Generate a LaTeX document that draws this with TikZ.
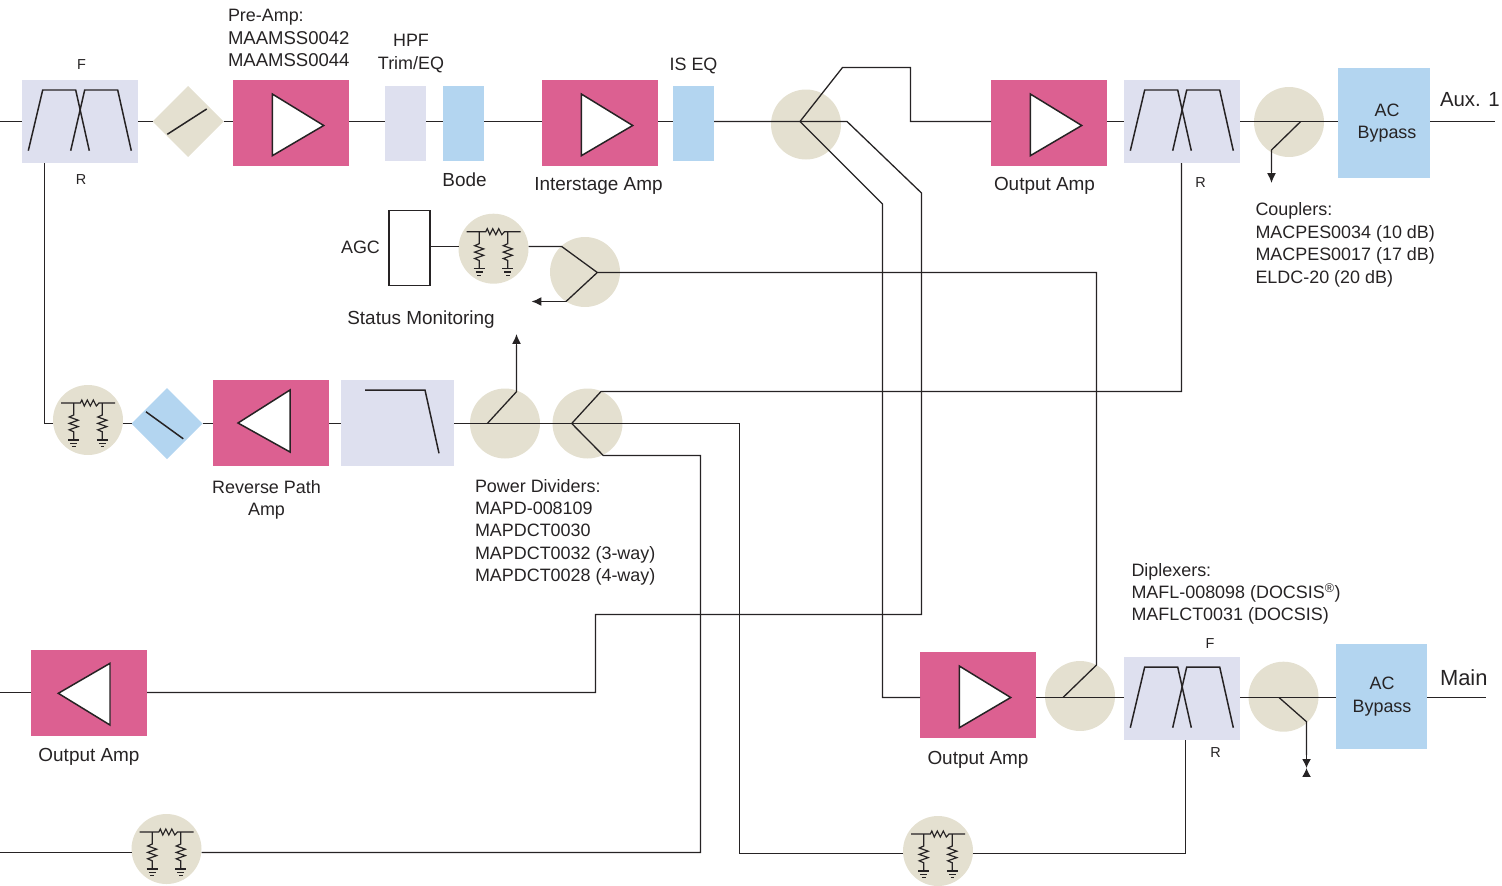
\documentclass[tikz,border=0pt]{standalone}
\usepackage{fontspec}
\setmainfont{Liberation Sans}
\usetikzlibrary{arrows.meta, shapes.geometric, calc}
\definecolor{colorpink}{RGB}{220,96,145}
\definecolor{colorlav}{RGB}{222,224,239}
\definecolor{colortan}{RGB}{228,224,208}
\definecolor{colorblue}{RGB}{179,213,240}
\definecolor{colorink}{RGB}{38,35,36}
\tikzset{
	wire/.style={line width=1.3pt,draw=colorink,line join=miter},
	glyph/.style={line width=1.5pt,draw=colorink},
	tinyglyph/.style={line width=1.2pt,draw=colorink},
	box/.style={rectangle,inner sep=0,outer sep=0},
	ampbox/.style={box,fill=colorpink,minimum width=116bp,minimum height=86bp},
	filterbox/.style={box,fill=colorlav,minimum width=116bp,minimum height=83bp},
	eqbox/.style={box,minimum width=41bp,minimum height=75bp},
	acbox/.style={box,fill=colorblue,align=center},
	disc/.style={circle,fill=colortan,inner sep=0,outer sep=0,minimum size=70bp},
	gem/.style={diamond,inner sep=0,outer sep=0,minimum width=71bp,minimum height=71bp},
	lbl/.style={inner sep=0,outer sep=0,text=colorink,font=\fontsize{19}{22.5}\selectfont,align=left},
	codelbl/.style={lbl,font=\fontsize{18}{22.5}\selectfont},
	smalllbl/.style={lbl,font=\fontsize{14.5}{17}\selectfont},
	biglbl/.style={lbl,font=\fontsize{20.5}{24}\selectfont},
	tip/.style={-{Latex[length=10pt,width=9pt]}}
}
% glyphs, placed on a node centre
\newcommand{\filterglyph}[1]{
	\draw[glyph,shift={(#1.center)}] (-51.7,29.2) -- (-37.3,-31.5) -- (-4.3,-31.5) -- (9.3,29.2);
	\draw[glyph,shift={(#1.center)}] (-9.3,29.2) -- (4.7,-31.5) -- (37.7,-31.5) -- (51.3,29.2);
}
\newcommand{\ampright}[1]{
	\draw[glyph,fill=white,shift={(#1.center)}] (-18.7,-29) -- (32.7,2.5) -- (-18.7,32.7) -- cycle;
}
\newcommand{\attnleg}[1]{
	\draw[tinyglyph] (#1,-17) -- (#1,-5) -- ++(-4.5,2) -- ++(9,3.2) -- ++(-9,3.2) -- ++(9,3.2) -- ++(-9,3.2) -- ++(4.5,2) -- (#1,20);
	\draw[tinyglyph] (#1-5.5,20) -- (#1+5.5,20);
	\draw[tinyglyph] (#1-3.5,23.2) -- (#1+3.5,23.2);
	\draw[tinyglyph] (#1-1.8,26.4) -- (#1+1.8,26.4);
}
\newcommand{\attnglyph}[1]{
	\begin{scope}[shift={(#1.center)}]
		\draw[tinyglyph] (-27,-17) -- (-7.7,-17) -- ++(1.5,-3) -- ++(2.5,6) -- ++(3,-6) -- ++(3,6) -- ++(3,-6) -- ++(3,6) -- ++(2.7,-3) -- (27,-17);
		\attnleg{-14.3}
		\attnleg{14.3}
	\end{scope}
}

\begin{document}
\begin{tikzpicture}[x=1bp,y=-1bp]
	\useasboundingbox (0,0) rectangle (1502,885);
	% line heights
	\coordinate (auxy) at (0,121.5);
	\coordinate (revy) at (0,423.5);
	\coordinate (mainy) at (0,697.5);
	\coordinate (lefty) at (0,692.5);
	\coordinate (lowl) at (0,852.5);
	\coordinate (lowr) at (0,853.5);
	\coordinate (agcy) at (0,246.5);

	% top row
	\node[filterbox] (filtera) at (80,121.5) {};
	\node[gem,fill=colortan] (gema) at (188,121.5) {};
	\node[ampbox] (preamp) at (291,123) {};
	\node[eqbox,fill=colorlav] (hpf) at (405.5,123.5) {};
	\node[eqbox,fill=colorblue] (bode) at (463.5,123.5) {};
	\node[ampbox] (isamp) at (600,123) {};
	\node[eqbox,fill=colorblue] (iseq) at (693.5,123.5) {};
	\node[disc] (splita) at (806,124.5) {};
	\node[ampbox] (auxamp) at (1049,123) {};
	\node[filterbox] (filterb) at (1182,121.5) {};
	\node[disc] (tapa) at (1289,122) {};
	\node[acbox,minimum width=92bp,minimum height=110bp] (acaux) at (1384,123) {};

	% status monitoring
	\node[box,draw=colorink,line width=1.3pt,minimum width=41bp,minimum height=75bp] (agc) at (409.5,248) {};
	\node[disc] (attnagc) at (493.5,248.7) {};
	\node[disc] (splitb) at (585,272) {};

	% reverse row
	\node[disc] (attnrev) at (88,420) {};
	\node[gem,fill=colorblue] (gemb) at (167,423.5) {};
	\node[ampbox] (revamp) at (271,423) {};
	\node[box,fill=colorlav,minimum width=113bp,minimum height=86bp] (lpf) at (397.5,423) {};
	\node[disc] (splitc) at (505,423.5) {};
	\node[disc] (splitd) at (587.5,423.5) {};

	% bottom rows
	\node[ampbox] (leftamp) at (89,692.5) {};
	\node[ampbox] (mainamp) at (978,695) {};
	\node[disc] (tapb) at (1080,696) {};
	\node[filterbox] (filterc) at (1182,698.5) {};
	\node[disc] (tapc) at (1283.5,696.7) {};
	\node[acbox,minimum width=91bp,minimum height=105bp] (acmain) at (1381.5,696.5) {};
	\node[disc] (attnleft) at (166.5,849) {};
	\node[disc] (attnright) at (938,851) {};

	% junctions
	\coordinate (jaux) at (800,121.5);
	\coordinate (jcoup) at (1300.7,121.5);
	\coordinate (jstat) at (597.3,272.5);
	\coordinate (jstatb) at (566,301.5);
	\coordinate (jrevc) at (487.3,423.5);
	\coordinate (jrevd) at (571.7,423.5);
	\coordinate (jmain) at (1063,697.5);
	\coordinate (jtap) at (1279,697.5);

	% main lines
	\draw[wire] (0,121.5) -- (filtera.west |- auxy);
	\draw[wire] (filtera.east |- auxy) -- (gema.west);
	\draw[wire] (gema.east) -- (preamp.west |- auxy);
	\draw[wire] (preamp.east |- auxy) -- (hpf.west |- auxy);
	\draw[wire] (hpf.east |- auxy) -- (bode.west |- auxy);
	\draw[wire] (bode.east |- auxy) -- (isamp.west |- auxy);
	\draw[wire] (isamp.east |- auxy) -- (iseq.west |- auxy);
	\draw[wire] (iseq.east |- auxy) -- (847,121.5) -- (921.5,193) -- (921.5,614.5) -- (595.5,614.5) -- (595.5,692.5) -- (leftamp.east |- lefty);
	\draw[wire] (jaux) -- (842.5,67.5) -- (910.5,67.5) -- (910.5,121.5) -- (auxamp.west |- auxy);
	\draw[wire] (jaux) -- (882.5,204) -- (882.5,697.5) -- (mainamp.west |- mainy);
	\draw[wire] (auxamp.east |- auxy) -- (filterb.west |- auxy);
	\draw[wire] (filterb.east |- auxy) -- (acaux.west |- auxy);
	\draw[wire] (acaux.east |- auxy) -- (1495,121.5);
	\draw[wire] (jcoup) -- (1271.5,150) -- (1271.5,172);
	\draw[wire,tip] (1271.5,170) -- (1271.5,183);

	% status
	\draw[wire] (agc.east |- agcy) -- (attnagc.west |- agcy);
	\draw[wire] (attnagc.east |- agcy) -- (561.7,246.5) -- (jstat) -- (jstatb);
	\draw[wire,tip] (jstatb) -- (531.5,301.5);
	\draw[wire] (jstat) -- (1096.5,272.5) -- (1096.5,665) -- (jmain);

	% reverse path
	\draw[wire] (44.5,163) -- (44.5,423.5) -- (attnrev.west |- revy);
	\draw[wire] (attnrev.east |- revy) -- (gemb.west);
	\draw[wire] (gemb.east) -- (revamp.west |- revy);
	\draw[wire] (revamp.east |- revy) -- (lpf.west |- revy);
	\draw[wire] (lpf.east |- revy) -- (739.5,423.5) -- (739.5,853.5) -- (attnright.west |- lowr);
	\draw[wire] (attnright.east |- lowr) -- (1185.5,853.5) -- (1185.5,740);
	\draw[wire] (jrevc) -- (516.5,391.7) -- (516.5,345);
	\draw[wire,tip] (516.5,345) -- (516.5,334);
	\draw[wire] (jrevd) -- (601,391.5) -- (1181.5,391.5) -- (1181.5,163);
	\draw[wire] (jrevd) -- (603.3,455.5) -- (700.5,455.5) -- (700.5,852.5) -- (attnleft.east |- lowl);
	\draw[wire] (attnleft.west |- lowl) -- (0,852.5);

	% main output
	\draw[wire] (0,692.5) -- (leftamp.west |- lefty);
	\draw[wire] (mainamp.east |- mainy) -- (filterc.west |- mainy);
	\draw[wire] (filterc.east |- mainy) -- (acmain.west |- mainy);
	\draw[wire] (acmain.east |- mainy) -- (1486,697.5);
	\draw[wire] (jtap) -- (1306.5,721.7) -- (1306.5,755);
	\draw[wire,-{Latex[length=9pt,width=9pt]}] (1306.5,755) -- (1306.5,768);
	\draw[wire,-{Latex[length=9pt,width=9pt]}] (1306.5,777) -- (1306.5,768);

	% glyphs
	\filterglyph{filtera}
	\filterglyph{filterb}
	\filterglyph{filterc}
	\draw[glyph] ($(gema.center)+(-20.7,12.8)$) -- ($(gema.center)+(18.7,-12.5)$);
	\draw[glyph] ($(gemb.center)+(-21,-11.7)$) -- ($(gemb.center)+(16.3,15.3)$);
	\ampright{preamp}
	\ampright{isamp}
	\ampright{auxamp}
	\ampright{mainamp}
	\draw[glyph,fill=white,shift={(revamp.center)}] (19,-33) -- (-33,0) -- (19,29) -- cycle;
	\draw[glyph,fill=white,shift={(leftamp.center)}] (21,-29.2) -- (-30.7,0.8) -- (21,32.5) -- cycle;
	\attnglyph{attnagc}
	\attnglyph{attnrev}
	\attnglyph{attnleft}
	\attnglyph{attnright}
	\draw[glyph] ($(lpf.center)+(-32.5,-33)$) -- ($(lpf.center)+(27.5,-33)$) -- ($(lpf.center)+(41.5,30.3)$);

	% labels
	\node[smalllbl] (lblf) at (81.5,65) {F};
	\node[smalllbl] (lblr) at (81,180) {R};
	\node[codelbl,anchor=north west] (lblpre) at (228,9.5) {Pre-Amp:\\{\fontsize{18.6}{22.5}\selectfont MAAMSS0042}\\{\fontsize{18.6}{22.5}\selectfont MAAMSS0044}};
	\node[codelbl,align=center] (lblhpf) at (411,53.5) {HPF\\Trim/EQ};
	\node[lbl] (lblbode) at (464.5,180) {Bode};
	\node[lbl] (lblis) at (598.5,186) {Interstage Amp};
	\node[codelbl] (lbliseq) at (693.5,65.5) {IS EQ};
	\node[lbl] (lblauxamp) at (1044.5,186) {Output Amp};
	\node[smalllbl] (lblrb) at (1200.5,182.5) {R};
	\node[biglbl,anchor=west] (lblaux) at (1440,100) {Aux. 1};
	\node[codelbl,align=center] (lblacaux) at (1387,123) {AC\\Bypass};
	\node[codelbl,anchor=north west] (lblcoup) at (1255.5,203) {Couplers:\\MACPES0034 (10 dB)\\MACPES0017 (17 dB)\\ELDC-20 (20 dB)};
	\node[codelbl] (lblagc) at (360.5,247) {AGC};
	\node[lbl] (lblstat) at (421,320) {Status Monitoring};
	\node[codelbl,align=center] (lblrev) at (266.5,500) {Reverse Path\\Amp};
	\node[codelbl,anchor=north west] (lblpd) at (475,479) {Power Dividers:\\MAPD-008109\\MAPDCT0030\\MAPDCT0032 (3-way)\\MAPDCT0028 (4-way)};
	\node[codelbl,anchor=north west] (lbldip) at (1131.5,563) {Diplexers:\\MAFL-008098 (DOCSIS\textsuperscript{®})\\MAFLCT0031 (DOCSIS)};
	\node[smalllbl] (lblfc) at (1210,644) {F};
	\node[smalllbl] (lblrc) at (1215.5,753) {R};
	\node[lbl] (lblleft) at (89,757) {Output Amp};
	\node[lbl] (lblmain) at (978,759.5) {Output Amp};
	\node[codelbl,align=center] (lblacmain) at (1382,696.5) {AC\\Bypass};
	\node[lbl,font=\fontsize{22}{24}\selectfont,anchor=west] (lblm) at (1440,678) {Main};
\end{tikzpicture}
\end{document}
